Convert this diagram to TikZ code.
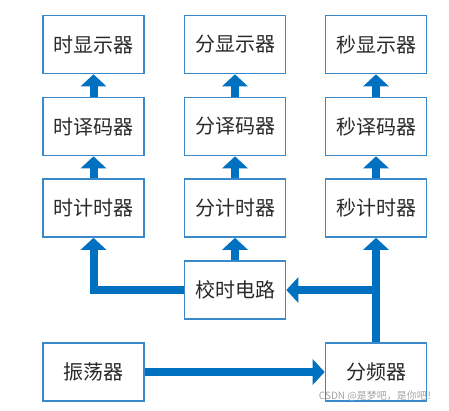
\documentclass[tikz,border=0pt]{standalone}
\usepackage{fontspec}
\setmainfont{Noto Sans CJK SC}
\usetikzlibrary{arrows.meta}
\definecolor{boxblue}{HTML}{3A8ACB}
\definecolor{arrblue}{HTML}{0070C0}
\definecolor{txt}{HTML}{2A2A2A}
\tikzset{
  blk/.style={draw=boxblue, line width=1.6pt, fill=white, minimum width=101pt, minimum height=58pt, inner sep=0pt, text=txt, font=\fontsize{20pt}{23pt}\selectfont},
  fat/.style={draw=arrblue, line width=8pt, line join=miter, -{Triangle[width=25pt,length=12pt]}},
}
\begin{document}
\begin{tikzpicture}[x=1pt,y=-1pt]
\useasboundingbox (0,0) rectangle (449,410);
\node[blk] (h1) at (93.5,44.5) {时显示器};
\node[blk] (m1) at (235,44.5) {分显示器};
\node[blk] (s1) at (376,44.5) {秒显示器};
\node[blk] (h2) at (93.5,126.5) {时译码器};
\node[blk] (m2) at (235,126.5) {分译码器};
\node[blk] (s2) at (376,126.5) {秒译码器};
\node[blk] (h3) at (93.5,208) {时计时器};
\node[blk] (m3) at (235,208) {分计时器};
\node[blk] (s3) at (376,208) {秒计时器};
\node[blk] (js) at (235,290) {校时电路};
\node[blk] (zd) at (93.5,372) {振荡器};
\node[blk] (fp) at (376,372) {分频器};
\coordinate (br) at (fp.north |- js.east);
\draw[fat] (h2.north) -- (h1.south);
\draw[fat] (m2.north) -- (m1.south);
\draw[fat] (s2.north) -- (s1.south);
\draw[fat] (h3.north) -- (h2.south);
\draw[fat] (m3.north) -- (m2.south);
\draw[fat] (s3.north) -- (s2.south);
\draw[fat] (js.north) -- (m3.south);
\draw[fat] (js.west) -| (h3.south);
\draw[fat] (fp.north) -- (s3.south);
\draw[fat] (br) -- (js.east);
\draw[fat] (zd.east) -- (fp.west);
\node[text=gray!70, font=\fontsize{10pt}{12pt}\selectfont, anchor=east, inner sep=0pt] (wm) at (437,396) {CSDN @是梦吧，是你吧！};
\end{tikzpicture}
\end{document}
